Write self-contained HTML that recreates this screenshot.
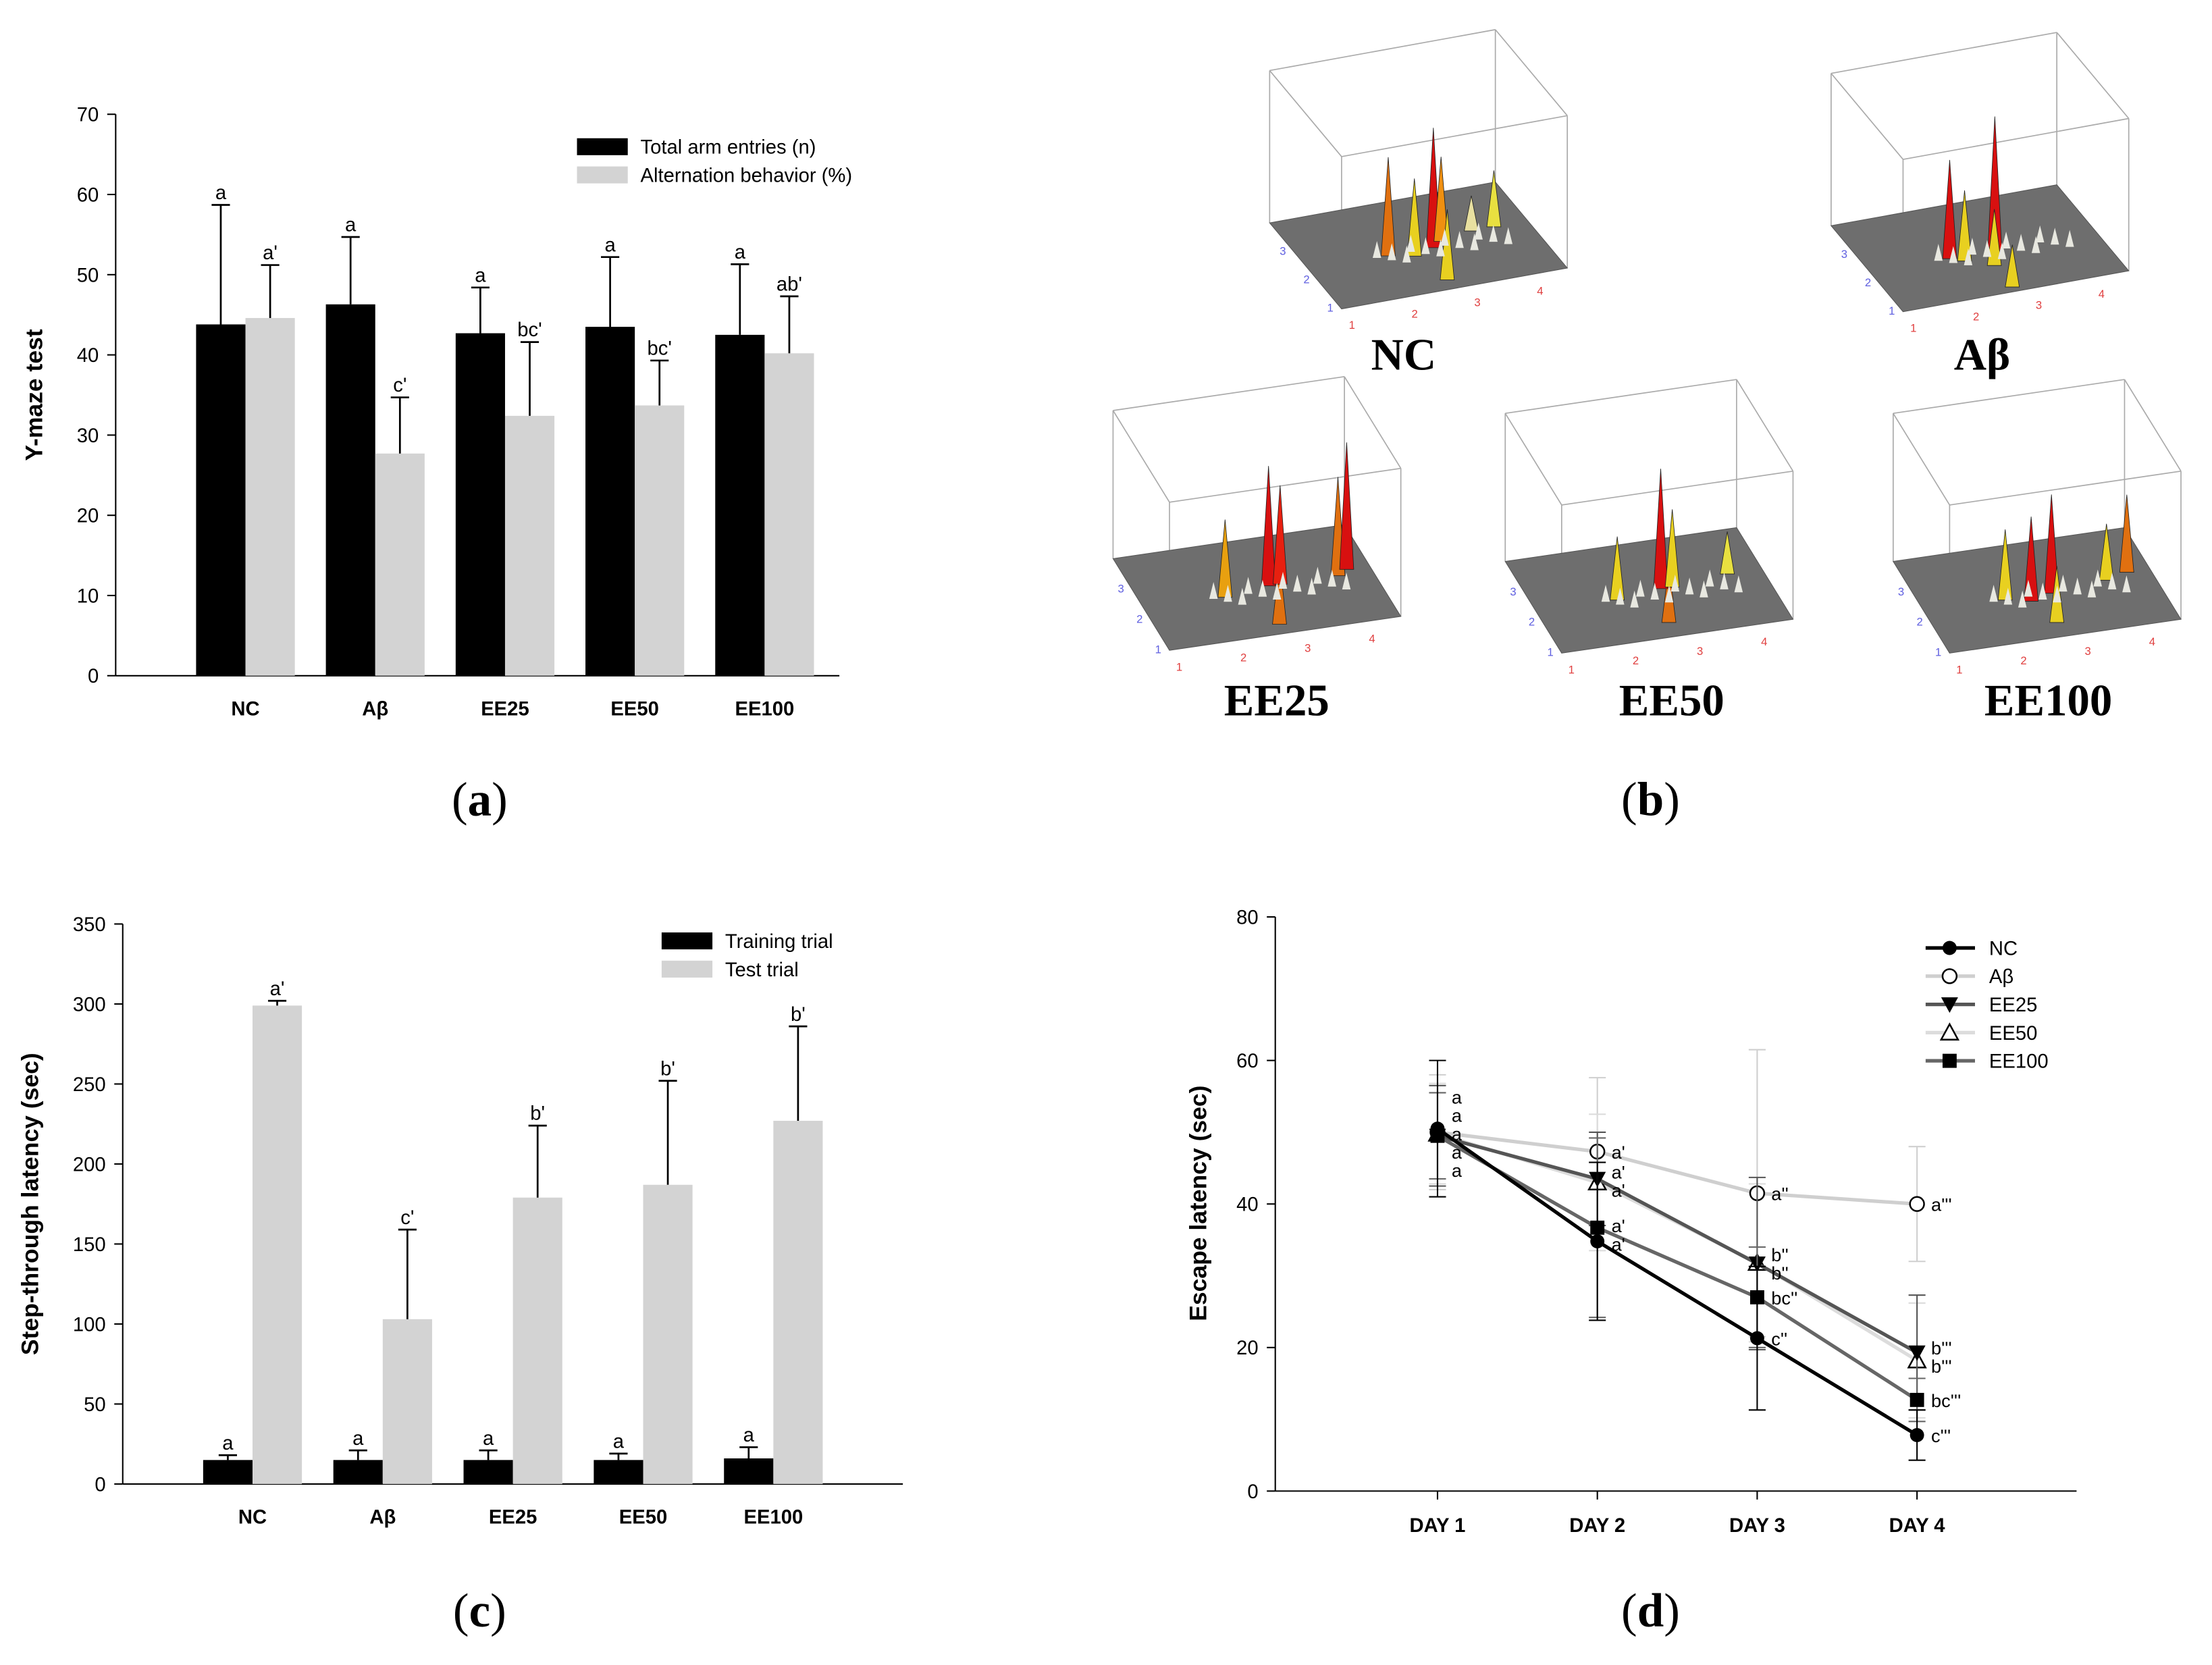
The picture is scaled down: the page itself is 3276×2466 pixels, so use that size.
<!DOCTYPE html>
<html><head><meta charset="utf-8">
<style>
html,body{margin:0;padding:0;background:#fff;}
svg{display:block;font-family:"Liberation Sans",Arial,sans-serif;}
.ser{font-family:"Liberation Serif","DejaVu Serif",serif;}
</style></head>
<body>
<svg id="root" xmlns="http://www.w3.org/2000/svg" width="3276" height="2466" viewBox="0 0 1568 1180.3">
<rect width="1568" height="1181" fill="#fff"/>
<g id="pa"></g>
<g id="pb"></g>
<g id="pc"></g>
<g id="pd"></g>
</svg>
<script>
// ---------- Panel (a) data ----------
const aCats = ["NC","Aβ","EE25","EE50","EE100"];
const aTotal = [43.8,46.3,42.7,43.5,42.5];
const aTotalErr = [14.9,8.4,5.7,8.7,8.8];
const aAlt = [44.6,27.7,32.4,33.7,40.2];
const aAltErr = [6.6,7.0,9.2,5.6,7.1];
const aTotalLbl = ["a","a","a","a","a"];
const aAltLbl = ["a'","c'","bc'","bc'","ab'"];
const aTicks = [0,10,20,30,40,50,60,70];
// ---------- Panel (c) data ----------
const cCats = ["NC","Aβ","EE25","EE50","EE100"];
const cTrain = [15,15,15,15,16];
const cTrainErr = [3,6,6,4,7];
const cTest = [299,103,179,187,227];
const cTestErr = [3,56,45,65,59];
const cTrainLbl = ["a","a","a","a","a"];
const cTestLbl = ["a'","c'","b'","b'","b'"];
const cTicks = [0,50,100,150,200,250,300,350];
// ---------- Panel (d) data ----------
const dDays = ["DAY 1","DAY 2","DAY 3","DAY 4"];
const dNames = ["NC","Aβ","EE25","EE50","EE100"];
const dNC = [50.5,34.8,21.3,7.8];
const dAb = [50.0,47.3,41.5,40.0];
const dEE25 = [49.5,43.5,31.7,19.3];
const dEE50 = [49.8,43.0,31.8,18.2];
const dEE100 = [49.5,36.7,27.0,12.7];
const dNCErr = [9.5,11,10,3.5];
const dAbErr = [8,10.3,20,8];
const dEE25Err = [7,6.5,12,8];
const dEE50Err = [7,9.5,11,8];
const dEE100Err = [6,12.5,7,3];
const dLbls = [["a","a'","c''","c'''"],["a","a'","a''","a'''"],["a","a'","b''","b'''"],["a","a'","b''","b'''"],["a","a'","bc''","bc'''"]];
const dTicks = [0,20,40,60,80];

const NS="http://www.w3.org/2000/svg";
function mk(tag,parent,attrs){const e=document.createElementNS(NS,tag);for(const k in attrs)e.setAttribute(k,attrs[k]);parent.appendChild(e);return e;}
function txt(parent,x,y,s,size,anchor,extra){const t=mk("text",parent,Object.assign({x:x,y:y,"font-size":size,"text-anchor":anchor||"middle",fill:"#000"},extra||{}));t.textContent=s;return t;}

// ---------- Bar chart builder ----------
function barChart(g,o){
  const y=v=>o.y0-(v/o.ymax)*(o.y0-o.y1);
  const ax=mk("line",g,{x1:o.x0,y1:o.y1,x2:o.x0,y2:o.y0,stroke:"#000","stroke-width":1});
  
  
  const bx=mk("line",g,{x1:o.x0,y1:o.y0,x2:o.x2,y2:o.y0,stroke:"#000","stroke-width":1});
  
  
  o.ticks.forEach(t=>{
    mk("line",g,{x1:o.x0-6,y1:y(t),x2:o.x0,y2:y(t),stroke:"#000"});
    const tl=txt(g,o.x0-12,y(t)+5,String(t),14,"end");
    
    
  });
  o.cats.forEach((c,i)=>{
    const cx=o.x0+o.first+i*o.step;
    const series=[[o.s1,o.e1,"#000",cx-o.bw,o.l1],[o.s2,o.e2,"#d3d3d3",cx,o.l2]];
    series.forEach((s,j)=>{
      const v=s[0][i],e=s[1][i];
      const r=mk("rect",g,{x:s[3],y:y(v),width:o.bw,height:o.y0-y(v),fill:s[2]});
      
      
      const ex=s[3]+o.bw/2;
      mk("line",g,{x1:ex,y1:y(v),x2:ex,y2:y(v+e),stroke:"#000","stroke-width":1.3});
      mk("line",g,{x1:ex-6.5,y1:y(v+e),x2:ex+6.5,y2:y(v+e),stroke:"#000","stroke-width":1.3});
      const lb=txt(g,ex,y(v+e)-4,s[4][i],14,"middle");
      
      
    });
    const cl=txt(g,cx,o.y0+28,c,14,"middle",{"font-weight":"bold"});
    
    
  });
  const yt=txt(g,0,0,o.title,17,"middle",{"font-weight":"bold",transform:"translate("+o.tx+","+((o.y0+o.y1)/2)+") rotate(-90)"});
  
  
  [[o.n1lab,"#000"],[o.n2lab,"#d3d3d3"]].forEach((L,k)=>{
    const r=mk("rect",g,{x:o.lx,y:o.ly+k*20-6,width:36,height:12,fill:L[1]});
    
    
    const t=txt(g,o.lx+45,o.ly+k*20+5,L[0],14,"start");
    
    
  });
  const pl=txt(g,o.plx,o.ply,"",34,"middle",{"class":"ser"});
  pl.innerHTML='(<tspan font-weight="bold">'+o.pl+'</tspan>)';
  
  
}
barChart(document.getElementById("pa"),{x0:82,x2:595,y0:479,y1:81,ymax:70,first:92,step:92,bw:35,cats:aCats,
  s1:aTotal,e1:aTotalErr,s2:aAlt,e2:aAltErr,l1:aTotalLbl,l2:aAltLbl,ticks:aTicks,n1:'total',n2:'alternation',
  title:"Y-maze test",tx:30,lx:409,ly:104,n1lab:"Total arm entries (n)",n2lab:"Alternation behavior (%)",pl:"a",plx:340,ply:578});
barChart(document.getElementById("pc"),{x0:87,x2:640,y0:1052,y1:655,ymax:350,first:92,step:92.3,bw:35,cats:cCats,
  s1:cTrain,e1:cTrainErr,s2:cTest,e2:cTestErr,l1:cTrainLbl,l2:cTestLbl,ticks:cTicks,n1:'training',n2:'test',
  title:"Step-through latency (sec)",tx:27,lx:469,ly:667,n1lab:"Training trial",n2lab:"Test trial",pl:"c",plx:340,ply:1153});

// ---------- Panel (d) line chart ----------
(function(){
  const g=document.getElementById("pd");
  const x0=904,x2=1472,y0=1057,y1=650,ymax=80;
  const y=v=>y0-(v/ymax)*(y0-y1);
  const x=i=>1019+i*113.3;
  const ax=mk("line",g,{x1:x0,y1:y1,x2:x0,y2:y0,stroke:"#000"});
  
  
  const bx=mk("line",g,{x1:x0,y1:y0,x2:x2,y2:y0,stroke:"#000"});
  
  
  dTicks.forEach(t=>{
    mk("line",g,{x1:x0-6,y1:y(t),x2:x0,y2:y(t),stroke:"#000"});
    const tl=txt(g,x0-12,y(t)+5,String(t),14,"end");
    
    
  });
  dDays.forEach((d,i)=>{
    mk("line",g,{x1:x(i),y1:y0,x2:x(i),y2:y0+6,stroke:"#000"});
    const t=txt(g,x(i),y0+29,d,14,"middle",{"font-weight":"bold"});
    
    
  });
  const yt=txt(g,0,0,"Escape latency (sec)",17,"middle",{"font-weight":"bold",transform:"translate(855,853) rotate(-90)"});
  
  
  const series=[dNC,dAb,dEE25,dEE50,dEE100];
  const errs=[dNCErr,dAbErr,dEE25Err,dEE50Err,dEE100Err];
  const cols=["#000","#cfcfcf","#555","#dcdcdc","#666"];
  const order=[1,3,2,4,0];
  function marker(p,k,cx,cy){
    if(k==0)return mk("circle",p,{cx:cx,cy:cy,r:5,fill:"#000"});
    if(k==1)return mk("circle",p,{cx:cx,cy:cy,r:5,fill:"#fff",stroke:"#000","stroke-width":1.2});
    if(k==2)return mk("polygon",p,{points:(cx-6)+","+(cy-5)+" "+(cx+6)+","+(cy-5)+" "+cx+","+(cy+6),fill:"#000"});
    if(k==3)return mk("polygon",p,{points:(cx-6)+","+(cy+5)+" "+(cx+6)+","+(cy+5)+" "+cx+","+(cy-6),fill:"#fff",stroke:"#000","stroke-width":1.2});
    return mk("rect",p,{x:cx-5,y:cy-5,width:10,height:10,fill:"#000"});
  }
  order.forEach(k=>{
    const s=series[k],e=errs[k];
    const sg=mk("g",g,{});
    
    
    s.forEach((v,i)=>{
      mk("line",sg,{x1:x(i),y1:y(v-e[i]),x2:x(i),y2:y(v+e[i]),stroke:cols[k]});
      mk("line",sg,{x1:x(i)-6,y1:y(v-e[i]),x2:x(i)+6,y2:y(v-e[i]),stroke:cols[k]});
      mk("line",sg,{x1:x(i)-6,y1:y(v+e[i]),x2:x(i)+6,y2:y(v+e[i]),stroke:cols[k]});
    });
    const pl=mk("polyline",sg,{points:s.map((v,i)=>x(i)+","+y(v)).join(" "),fill:"none",stroke:cols[k],"stroke-width":2.5});
    
    
    s.forEach((v,i)=>{
      const m=marker(sg,k,x(i),y(v));
      
      
    });
  });
  // significance labels: clusters of overlapping labels are spread symmetrically
  const gap=13;
  dDays.forEach((d,i)=>{
    const idx=[0,1,2,3,4].sort((a,b)=>series[b][i]-series[a][i]);
    let groups=idx.map(k=>({ks:[k],c:y(series[k][i])+5}));
    let changed=true;
    while(changed){
      changed=false;
      for(let j=0;j<groups.length-1;j++){
        const A=groups[j],B=groups[j+1];
        const aEnd=A.c+(A.ks.length-1)*gap/2, bStart=B.c-(B.ks.length-1)*gap/2;
        if(bStart-aEnd<gap){
          const n=A.ks.length+B.ks.length;
          const c=(A.c*A.ks.length+B.c*B.ks.length)/n;
          groups.splice(j,2,{ks:A.ks.concat(B.ks),c:c});
          changed=true;break;
        }
      }
    }
    groups.forEach(G=>{
      G.ks.forEach((k,m)=>{
        const ly=G.c+(m-(G.ks.length-1)/2)*gap;
        const t=txt(g,x(i)+10,ly,dLbls[k][i],13,"start");
        
        
      });
    });
  });
  dNames.forEach((n,k)=>{
    const ly=672+k*20;
    const lg=mk("g",g,{});
    
    
    mk("line",lg,{x1:1365,y1:ly,x2:1400,y2:ly,stroke:cols[k],"stroke-width":2.5});
    marker(lg,k,1382,ly);
    txt(lg,1410,ly+5,n,14,"start");
  });
  const pl=txt(g,1170,1153,"",34,"middle",{"class":"ser"});
  pl.innerHTML='(<tspan font-weight="bold">d</tspan>)';
  
  
})();

// ---------- Panel (b) 3D plots (decorative) ----------
(function(){
  const g=document.getElementById("pb");
  const plots=[
    {n:"NC",o:[900,158],u:[160,-29],v:[51,61],h:-108,lx:995,ly:262,pk:[[0.35,0.55,70,"#e07010"],[0.45,0.6,55,"#e8d020"],[0.55,0.55,85,"#d81010"],[0.6,0.5,60,"#f09010"],[0.5,0.9,50,"#e8d020"],[0.85,0.45,40,"#e8e040"],[0.75,0.45,25,"#e8e0a0"]]},
    {n:"Aβ",o:[1298,160],u:[160,-29],v:[51,61],h:-108,lx:1405,ly:262,pk:[[0.35,0.55,70,"#d81010"],[0.4,0.6,50,"#e8d020"],[0.55,0.55,95,"#d81010"],[0.5,0.7,40,"#e8d020"],[0.5,0.95,30,"#e8d020"]]},
    {n:"EE25",o:[789,396],u:[164,-24],v:[40,65],h:-105,lx:905,ly:507,pk:[[0.35,0.55,55,"#e8a010"],[0.5,0.9,45,"#e07010"],[0.55,0.5,85,"#d81010"],[0.6,0.5,70,"#e82010"],[0.85,0.5,70,"#e07010"],[0.9,0.45,90,"#d81010"]]},
    {n:"EE50",o:[1067,398],u:[164,-24],v:[40,65],h:-105,lx:1185,ly:507,pk:[[0.35,0.55,45,"#e8d020"],[0.5,0.85,40,"#e07010"],[0.55,0.5,85,"#d81010"],[0.6,0.5,55,"#e8d020"],[0.85,0.45,30,"#e8e040"]]},
    {n:"EE100",o:[1342,398],u:[164,-24],v:[40,65],h:-105,lx:1452,ly:507,pk:[[0.35,0.55,50,"#e8d020"],[0.45,0.6,60,"#d81010"],[0.55,0.55,70,"#d81010"],[0.5,0.85,40,"#e8d020"],[0.8,0.5,40,"#e8d020"],[0.9,0.45,55,"#e07010"]]}
  ];
  plots.forEach(p=>{
    const pg=mk("g",g,{});
    
    
    const P=(a,b,c)=>[p.o[0]+a*p.u[0]+b*p.v[0],p.o[1]+a*p.u[1]+b*p.v[1]+c*p.h];
    const s=q=>q[0]+","+q[1];
    const ln=(A,B)=>mk("line",pg,{x1:A[0],y1:A[1],x2:B[0],y2:B[1],stroke:"#aaa","stroke-width":0.8});
    const c=[[0,0],[1,0],[1,1],[0,1]];
    c.forEach((q,i)=>{const r=c[(i+1)%4];ln(P(q[0],q[1],1),P(r[0],r[1],1));ln(P(q[0],q[1],0),P(q[0],q[1],1));});
    mk("polygon",pg,{points:c.map(q=>s(P(q[0],q[1],0))).join(" "),fill:"#6e6e6e",stroke:"#555","stroke-width":0.5});
    p.pk.forEach(k=>{
      const b=P(k[0],k[1],0),w=5;
      mk("polygon",pg,{points:(b[0]-w)+","+b[1]+" "+(b[0]+w)+","+b[1]+" "+b[0]+","+(b[1]-k[2]),fill:k[3],stroke:"#222","stroke-width":0.4});
    });
    for(let i=0;i<12;i++){const b=P(0.3+i*0.05,0.55+(i%3)*0.05,0);mk("polygon",pg,{points:(b[0]-3)+","+b[1]+" "+(b[0]+3)+","+b[1]+" "+b[0]+","+(b[1]-12),fill:"#e8e8e0"});}
    ["1","2","3","4"].forEach((t,i)=>{const q=P(i/3.6+0.03,1.05,0);txt(pg,q[0],q[1]+12,t,8,"middle",{fill:"#e04040"});});
    ["1","2","3"].forEach((t,i)=>{const q=P(0,1-i*0.33,0);txt(pg,q[0]-8,q[1]+2,t,8,"middle",{fill:"#6060e0"});});
    const lb=txt(pg,p.lx,p.ly,p.n,32,"middle",{"class":"ser","font-weight":"bold"});
    
    
  });
  const pl=txt(g,1170,578,"",34,"middle",{"class":"ser"});
  pl.innerHTML='(<tspan font-weight="bold">b</tspan>)';
  
  
})();
</script>
</body></html>
